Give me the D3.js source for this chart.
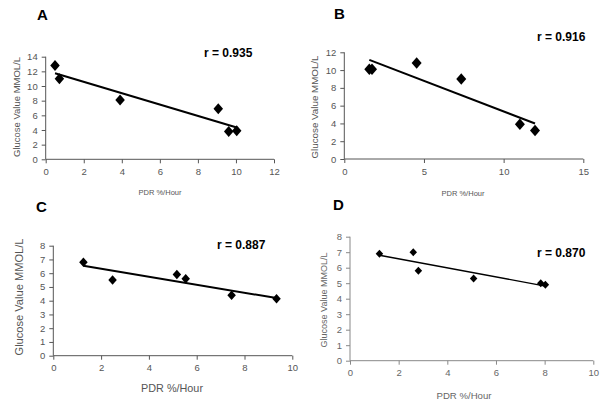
<!DOCTYPE html>
<html><head><meta charset="utf-8">
<script src="https://cdn.jsdelivr.net/npm/d3@7"></script>
<style>body{margin:0;background:#fff}svg{display:block}</style>
</head><body><svg id="c" width="600" height="404"></svg>
<script>
// ---- data ----
const panelLetters = ["A", "B", "C", "D"];
const rLabels = ["r = 0.935", "r = 0.916", "r = 0.887", "r = 0.870"];
const xTitle = "PDR %/Hour";
const yTitle = "Glucose Value MMOL/L";

const pdrA  = [0.49, 0.72, 3.91, 9.07, 9.62, 10.04];
const glucA = [12.8, 11.0, 8.1, 6.9, 3.8, 3.9];
const pdrB  = [1.57, 1.74, 4.54, 7.34, 11.02, 11.97];
const glucB = [10.1, 10.1, 10.8, 9.0, 3.9, 3.2];
const pdrC  = [1.26, 2.48, 5.17, 5.54, 7.46, 9.34];
const glucC = [6.8, 5.5, 5.9, 5.6, 4.4, 4.15];
const pdrD  = [1.21, 2.60, 2.81, 5.08, 7.84, 8.03];
const glucD = [6.9, 7.0, 5.8, 5.3, 5.0, 4.9];

const xTicksA = [0, 2, 4, 6, 8, 10, 12];
const yTicksA = [0, 2, 4, 6, 8, 10, 12, 14];
const xTicksB = [0, 5, 10, 15];
const yTicksB = [0, 2, 4, 6, 8, 10, 12];
const xTicksC = [0, 2, 4, 6, 8, 10];
const yTicksC = [0, 1, 2, 3, 4, 5, 6, 7, 8];
const xTicksD = [0, 2, 4, 6, 8, 10];
const yTicksD = [0, 1, 2, 3, 4, 5, 6, 7, 8];

// ---- layout / style per panel ----
const panels = [
  {x: pdrA, y: glucA, xt: xTicksA, yt: yTicksA,
   L: 45.7, R: 274, B: 159.3, T: 56.7,
   letter: [37, 19.5], r: [204, 56.5], xl: [160, 195, 43, 8], yl: [17, 107, 100, 9.4],
   axis: "#555", text: "#555", lw: 2, mw: 9.5, mh: 11, tick: 9.5},
  {x: pdrB, y: glucB, xt: xTicksB, yt: yTicksB,
   L: 344.3, R: 583.3, B: 159, T: 52.3,
   letter: [334, 18.5], r: [537, 40.5], xl: [463, 196, 43, 8], yl: [315, 107, 103, 9.7],
   axis: "#555", text: "#555", lw: 2, mw: 10, mh: 11.5, tick: 9.5},
  {x: pdrC, y: glucC, xt: xTicksC, yt: yTicksC,
   L: 53.3, R: 292.3, B: 355.7, T: 245.7,
   letter: [36, 211.5], r: [217, 248.5], xl: [172, 391.5, 62, 10.5], yl: [19, 297, 117, 11],
   axis: "#555", text: "#555", lw: 2, mw: 8.5, mh: 9.5, tick: 9.5},
  {x: pdrD, y: glucD, xt: xTicksD, yt: yTicksD,
   L: 350, R: 593.3, B: 360.7, T: 236.7,
   letter: [333, 209.5], r: [537, 256.5], xl: [464, 398.5, 55, 9.5], yl: [324, 300, 95, 9],
   axis: "#888", text: "#666", lw: 1.4, mw: 7.5, mh: 8, tick: 9.5}
];

const svg = d3.select("#c");
const font = "'Liberation Sans', Arial, sans-serif";

panels.forEach((p, i) => {
  const xs = d3.scaleLinear().domain([p.xt[0], p.xt[p.xt.length - 1]]).range([p.L, p.R]);
  const ys = d3.scaleLinear().domain([p.yt[0], p.yt[p.yt.length - 1]]).range([p.B, p.T]);
  const g = svg.append("g");

  const xa = g.append("g").attr("transform", `translate(0,${p.B})`)
    .call(d3.axisBottom(xs).tickValues(p.xt).tickSize(4).tickPadding(5).tickFormat(d3.format("d")));
  const ya = g.append("g").attr("transform", `translate(${p.L},0)`)
    .call(d3.axisLeft(ys).tickValues(p.yt).tickSize(4).tickPadding(4).tickFormat(d3.format("d")));
  [xa, ya].forEach(a => {
    a.select(".domain").attr("stroke", p.axis).attr("stroke-width", 1);
    a.selectAll(".tick line").attr("stroke", p.axis);
    a.selectAll(".tick text").attr("fill", p.text).style("font-family", font).style("font-size", p.tick + "px");
  });
  xa.select(".domain").attr("d", `M${p.L},0H${p.R}`);
  ya.select(".domain").attr("d", `M0,${p.B}V${p.T}`);

  // regression line
  const n = p.x.length;
  const mx = d3.mean(p.x), my = d3.mean(p.y);
  let sxy = 0, sxx = 0;
  for (let k = 0; k < n; k++) { sxy += (p.x[k] - mx) * (p.y[k] - my); sxx += (p.x[k] - mx) ** 2; }
  const slope = sxy / sxx, icpt = my - slope * mx;
  const ext = d3.extent(p.x);
  g.append("line")
    .attr("x1", xs(ext[0])).attr("y1", ys(icpt + slope * ext[0]))
    .attr("x2", xs(ext[1])).attr("y2", ys(icpt + slope * ext[1]))
    .attr("stroke", "#000").attr("stroke-width", p.lw);

  // points (diamonds)
  const dpath = `M0,${-p.mh / 2}L${p.mw / 2},0L0,${p.mh / 2}L${-p.mw / 2},0Z`;
  g.selectAll("path.pt").data(p.x.map((v, k) => [v, p.y[k]])).join("path")
    .attr("class", "pt").attr("d", dpath)
    .attr("transform", d => `translate(${xs(d[0])},${ys(d[1])})`)
    .attr("fill", "#000");

  // texts
  g.append("text").attr("x", p.letter[0]).attr("y", p.letter[1]).text(panelLetters[i])
    .style("font-family", font).style("font-weight", "bold").style("font-size", "15px").attr("fill", "#000");
  g.append("text").attr("x", p.r[0]).attr("y", p.r[1]).text(rLabels[i])
    .style("font-family", font).style("font-weight", "bold").style("font-size", "12px").attr("fill", "#000");
  g.append("text").attr("x", p.xl[0]).attr("y", p.xl[1]).attr("text-anchor", "middle")
    .attr("textLength", p.xl[2]).attr("lengthAdjust", "spacingAndGlyphs")
    .text(xTitle).style("font-family", font).style("font-size", p.xl[3] + "px").attr("fill", p.text);
  g.append("text").attr("transform", `translate(${p.yl[0]},${p.yl[1]}) rotate(-90)`)
    .attr("text-anchor", "middle").attr("dy", "0.35em")
    .attr("textLength", p.yl[2]).attr("lengthAdjust", "spacingAndGlyphs")
    .text(yTitle).style("font-family", font).style("font-size", p.yl[3] + "px").attr("fill", p.text);
});
</script>
</body></html>
